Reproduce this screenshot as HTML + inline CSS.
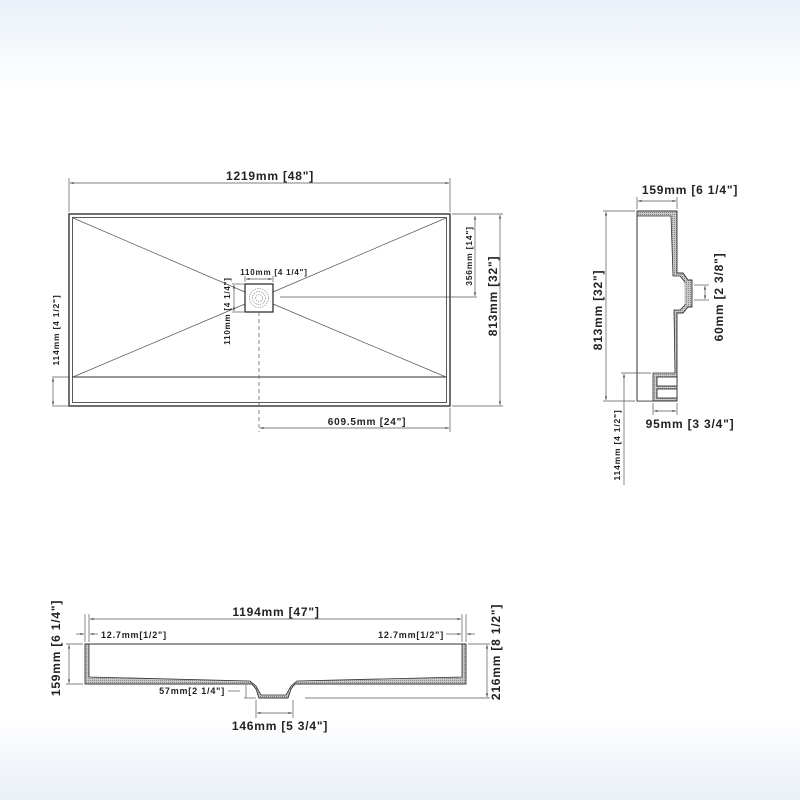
<!DOCTYPE html>
<html><head><meta charset="utf-8"><style>
html,body{margin:0;padding:0;}
body{width:800px;height:800px;overflow:hidden;background:linear-gradient(to bottom,#e9f0f7 0px,#f3f7fb 40px,#ffffff 90px,#ffffff 720px,#f3f6fa 760px,#eaf0f7 800px);}
svg{position:absolute;left:0;top:0;}
text{font-family:"Liberation Sans",Arial,sans-serif;font-weight:bold;fill:#222;letter-spacing:0.8px;}
</style></head><body>
<svg width="800" height="800" viewBox="0 0 800 800">
<defs>
<marker id="a" viewBox="0 0 10 10" refX="10" refY="5" markerWidth="5" markerHeight="5" orient="auto-start-reverse"><path d="M0,2 L10,5 L0,8z" fill="#444"/></marker>
<pattern id="h" width="2" height="2" patternUnits="userSpaceOnUse"><rect width="2" height="2" fill="#c8c8c8"/><rect width="1" height="1" fill="#888"/></pattern>
</defs>
<g stroke="#555" stroke-width="0.7" fill="none">
<rect x="69" y="214" width="381" height="192" stroke="#333" stroke-width="1.4"/>
<rect x="72.5" y="217.5" width="374" height="185" stroke="#333" stroke-width="0.8"/>
<line x1="72" y1="377" x2="447" y2="377" stroke="#333" stroke-width="1"/>
<line x1="73" y1="218" x2="245" y2="292"/>
<line x1="73" y1="377" x2="245" y2="304"/>
<line x1="446" y1="218" x2="273" y2="292"/>
<line x1="446" y1="377" x2="273" y2="304"/>
<rect x="245" y="284" width="28" height="28" stroke="#222" stroke-width="1.2" fill="#fff"/>
<line x1="259" y1="312" x2="259" y2="432" stroke-dasharray="4,3"/>
<line x1="69" y1="212" x2="69" y2="178"/><line x1="450" y1="212" x2="450" y2="178"/>
<line x1="70" y1="183" x2="449" y2="183" marker-start="url(#a)" marker-end="url(#a)"/>
<line x1="450" y1="408" x2="450" y2="432"/>
<line x1="260" y1="428" x2="449" y2="428" marker-start="url(#a)" marker-end="url(#a)"/>
<line x1="452" y1="214" x2="503" y2="214"/><line x1="452" y1="406" x2="503" y2="406"/>
<line x1="500" y1="215" x2="500" y2="405" marker-start="url(#a)" marker-end="url(#a)"/>
<line x1="280" y1="297" x2="477" y2="297"/>
<line x1="475" y1="216" x2="475" y2="296" marker-start="url(#a)" marker-end="url(#a)"/>
<line x1="52" y1="377" x2="70" y2="377"/><line x1="52" y1="406" x2="68" y2="406"/>
<line x1="53" y1="378" x2="53" y2="405" marker-start="url(#a)" marker-end="url(#a)"/>
<line x1="245" y1="282" x2="245" y2="276"/><line x1="273" y1="282" x2="273" y2="276"/>
<line x1="246" y1="279" x2="272" y2="279" marker-start="url(#a)" marker-end="url(#a)"/>
<line x1="232" y1="284" x2="244" y2="284"/><line x1="232" y1="312" x2="244" y2="312"/>
<line x1="234" y1="285" x2="234" y2="311" marker-start="url(#a)" marker-end="url(#a)"/>
</g>
<g fill="none" stroke="#999" stroke-width="0.8" stroke-dasharray="1.5,1">
<circle cx="259" cy="298" r="9.5"/><circle cx="259" cy="298" r="6.5"/><circle cx="259" cy="298" r="3.5"/>
</g>
<text x="270" y="180" font-size="12" text-anchor="middle">1219mm [48"]</text>
<text x="367" y="425" font-size="10" text-anchor="middle">609.5mm [24"]</text>
<text x="274" y="275" font-size="8" text-anchor="middle" font-weight="normal">110mm [4 1/4"]</text>
<text transform="translate(497,296) rotate(-90)" font-size="12" text-anchor="middle">813mm [32"]</text>
<text transform="translate(472,256) rotate(-90)" font-size="8.5" text-anchor="middle">356mm [14"]</text>
<text transform="translate(59,330) rotate(-90)" font-size="8.5" text-anchor="middle">114mm [4 1/2"]</text>
<text transform="translate(230,311) rotate(-90)" font-size="8" text-anchor="middle" font-weight="normal">110mm [4 1/4"]</text>

<!-- SIDE VIEW -->
<path d="M637,211 H677 V273 H683 L688,280 H692 V307 H688 L683,313 H677 V401 H637 Z" fill="url(#h)" stroke="#333" stroke-width="0.9"/>
<path d="M637,216 H671 L673,276 H680 L685,282 V305 L680,310 H674 L675,373 H653 V401 H637 Z" fill="#fff" stroke="#333" stroke-width="0.8"/>
<line x1="637" y1="216" x2="637" y2="401" stroke="#333" stroke-width="1"/>
<g stroke="#333" stroke-width="0.9" fill="#fff">
<rect x="657" y="377" width="20" height="9"/><rect x="657" y="389" width="20" height="9"/>
</g>
<line x1="685" y1="283" x2="685" y2="304" stroke="#bbb"/>
<g stroke="#555" stroke-width="0.7" fill="none">
<line x1="637" y1="209" x2="637" y2="197"/><line x1="677" y1="209" x2="677" y2="197"/>
<line x1="638" y1="201" x2="676" y2="201" marker-start="url(#a)" marker-end="url(#a)"/>
<line x1="603" y1="211" x2="635" y2="211"/><line x1="603" y1="401" x2="635" y2="401"/>
<line x1="606" y1="212" x2="606" y2="400" marker-start="url(#a)" marker-end="url(#a)"/>
<line x1="694" y1="285" x2="709" y2="285"/><line x1="694" y1="300" x2="709" y2="300"/>
<line x1="705" y1="286" x2="705" y2="299" marker-start="url(#a)" marker-end="url(#a)"/>
<line x1="653" y1="403" x2="653" y2="415"/><line x1="677" y1="403" x2="677" y2="415"/>
<line x1="654" y1="411" x2="676" y2="411" marker-start="url(#a)" marker-end="url(#a)"/>
<line x1="621" y1="373" x2="651" y2="373"/>
<line x1="624" y1="374" x2="624" y2="485" marker-start="url(#a)"/>
</g>
<text x="690" y="194" font-size="12" text-anchor="middle">159mm [6 1/4"]</text>
<text x="690" y="428" font-size="12" text-anchor="middle">95mm [3 3/4"]</text>
<text transform="translate(602,310) rotate(-90)" font-size="12" text-anchor="middle">813mm [32"]</text>
<text transform="translate(723,297) rotate(-90)" font-size="12" text-anchor="middle">60mm [2 3/8"]</text>
<text transform="translate(620,445) rotate(-90)" font-size="8.5" text-anchor="middle">114mm [4 1/2"]</text>

<!-- BOTTOM VIEW -->
<path d="M85,644 V684 H252 L256,689 L259,698 H288 L291,689 L295,684 H466 V644 Z" fill="url(#h)" stroke="#333" stroke-width="0.9"/>
<path d="M89,644 V677 L250,681 L256,686 L261,695 H286 L291,686 L297,681 L462,677 V644 Z" fill="#fff" stroke="#333" stroke-width="0.8"/>
<line x1="85" y1="644" x2="466" y2="644" stroke="#333" stroke-width="1"/>
<g stroke="#555" stroke-width="0.7" fill="none">
<line x1="85" y1="642" x2="85" y2="614"/><line x1="89" y1="642" x2="89" y2="614"/>
<line x1="462" y1="642" x2="462" y2="614"/><line x1="466" y1="642" x2="466" y2="614"/>
<line x1="90" y1="619" x2="461" y2="619" marker-start="url(#a)" marker-end="url(#a)"/>
<line x1="76" y1="634" x2="84" y2="634" marker-end="url(#a)"/><line x1="98" y1="634" x2="90" y2="634" marker-end="url(#a)"/>
<line x1="475" y1="634" x2="467" y2="634" marker-end="url(#a)"/><line x1="446" y1="634" x2="461" y2="634" marker-end="url(#a)"/>
<line x1="66" y1="644" x2="83" y2="644"/><line x1="66" y1="684" x2="83" y2="684"/>
<line x1="69" y1="645" x2="69" y2="683" marker-start="url(#a)" marker-end="url(#a)"/>
<line x1="468" y1="644" x2="490" y2="644"/><line x1="305" y1="698" x2="490" y2="698"/>
<line x1="487" y1="645" x2="487" y2="697" marker-start="url(#a)" marker-end="url(#a)"/>
<line x1="228" y1="691" x2="240" y2="691"/>
<line x1="246" y1="685" x2="246" y2="698"/><line x1="244" y1="698" x2="256" y2="698"/>
<line x1="256" y1="700" x2="256" y2="718"/><line x1="293" y1="700" x2="293" y2="718"/>
<line x1="257" y1="713" x2="292" y2="713" marker-start="url(#a)" marker-end="url(#a)"/>
</g>
<text x="276" y="616" font-size="12" text-anchor="middle">1194mm [47"]</text>
<text x="101" y="638" font-size="9">12.7mm[1/2"]</text>
<text x="444" y="638" font-size="9" text-anchor="end">12.7mm[1/2"]</text>
<text x="225" y="694" font-size="9" text-anchor="end">57mm[2 1/4"]</text>
<text x="280" y="730" font-size="12" text-anchor="middle">146mm [5 3/4"]</text>
<text transform="translate(60,648) rotate(-90)" font-size="12" text-anchor="middle">159mm [6 1/4"]</text>
<text transform="translate(500,652) rotate(-90)" font-size="12" text-anchor="middle">216mm [8 1/2"]</text>
</svg>
</body></html>
